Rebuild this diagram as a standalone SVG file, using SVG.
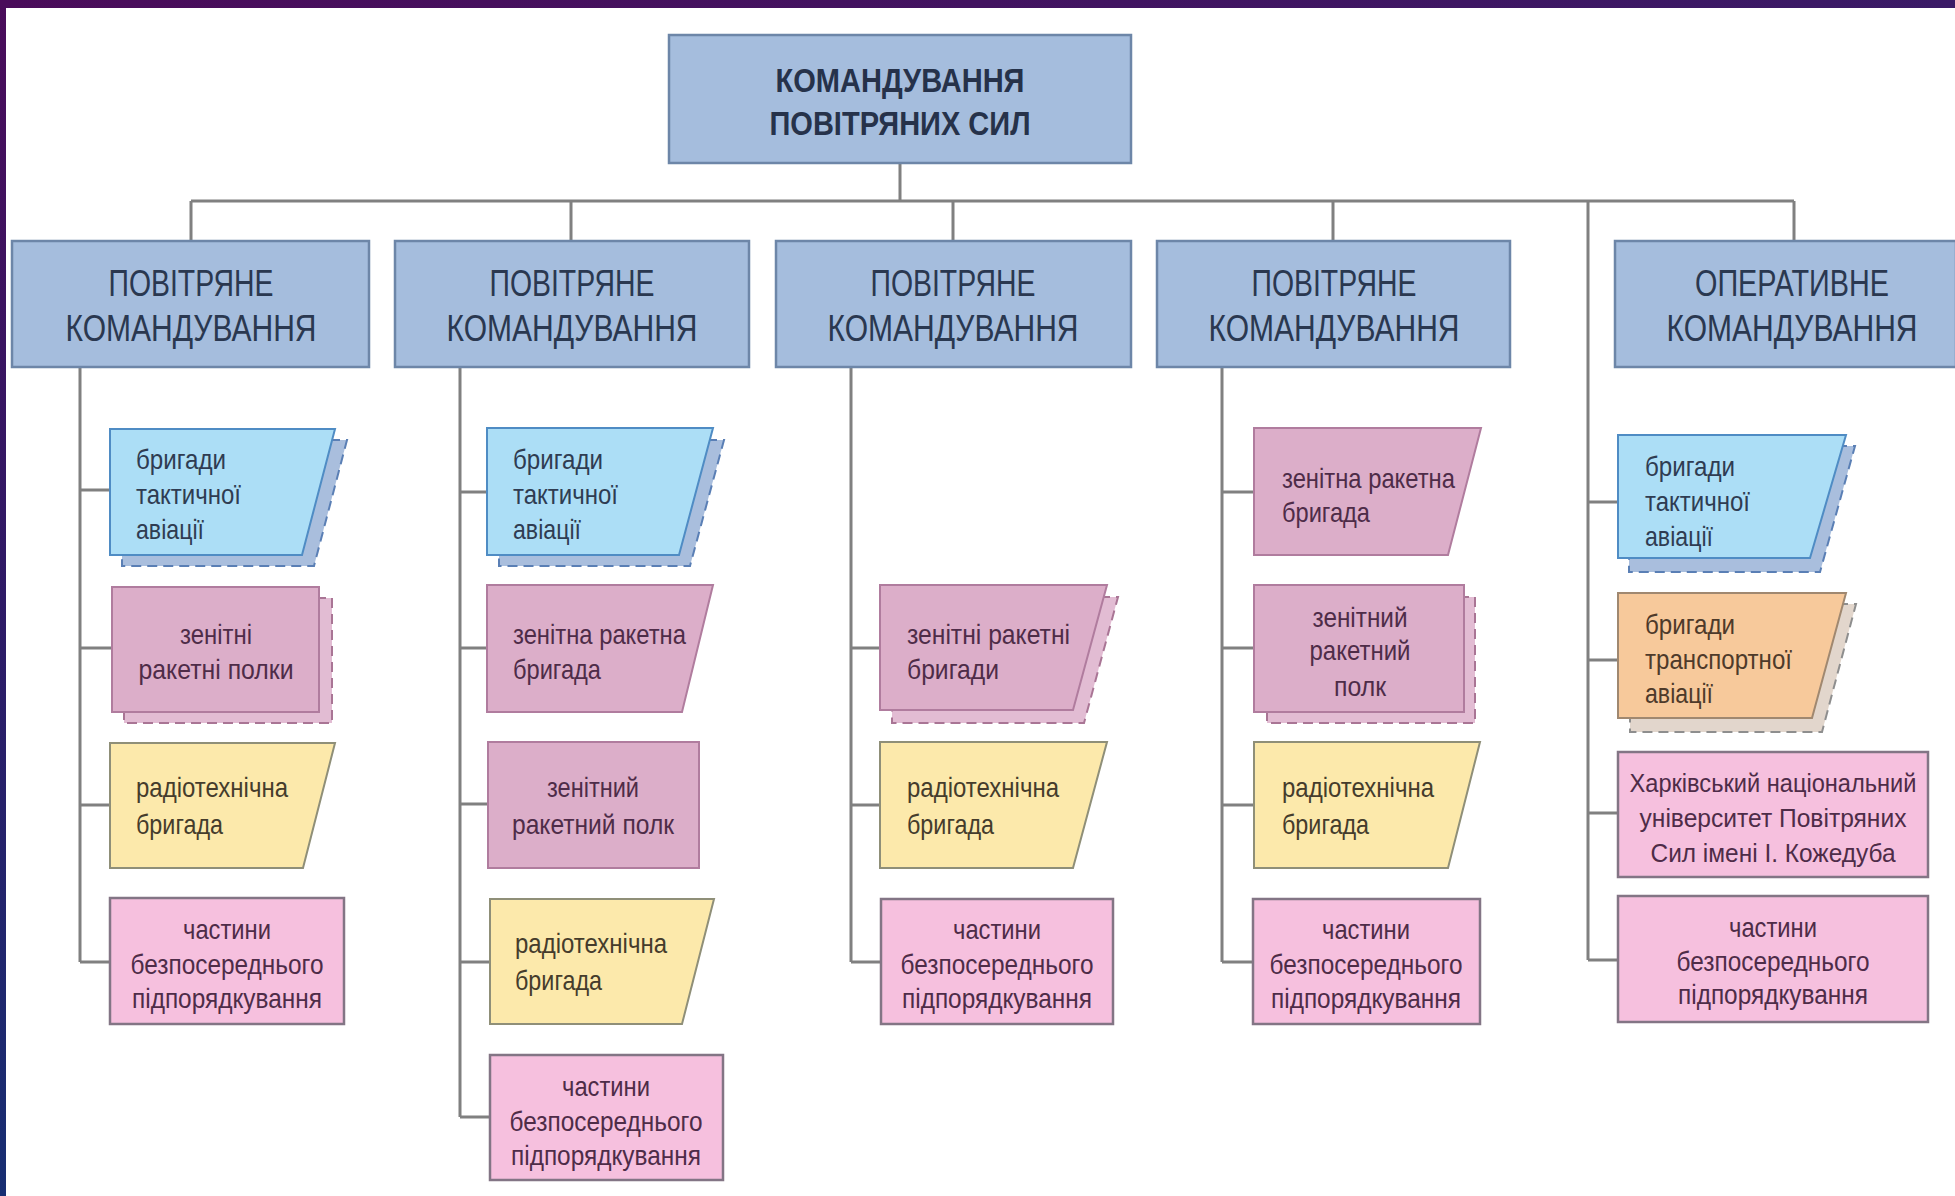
<svg xmlns="http://www.w3.org/2000/svg" width="1955" height="1196" viewBox="0 0 1955 1196">
<defs>
<linearGradient id="bg" x1="0" y1="0" x2="0" y2="1">
<stop offset="0" stop-color="#4a0c5a"/>
<stop offset="0.5" stop-color="#2e1a66"/>
<stop offset="1" stop-color="#172e72"/>
</linearGradient>
<linearGradient id="bgTop" x1="0" y1="0" x2="1" y2="0">
<stop offset="0" stop-color="#4a0c5a"/>
<stop offset="1" stop-color="#3a1a66"/>
</linearGradient>
<style>
.hdr{fill:#a5bddd;stroke:#6d86a8;stroke-width:2.5}
.hdrt{font-family:"Liberation Sans",Arial,sans-serif;font-size:37px;fill:#2a3850;text-anchor:middle}
.topt{font-family:"Liberation Sans",Arial,sans-serif;font-size:34px;font-weight:bold;fill:#26324a;text-anchor:middle}
.t{font-family:"Liberation Sans",Arial,sans-serif;font-size:28px}
.s{font-size:25px}
.l{text-anchor:start}
.c{text-anchor:middle}
.blue{fill:#acdef6;stroke:#4f8cc4;stroke-width:2}
.blueS{fill:#a9bedd;stroke:#5a7fb5;stroke-width:2;stroke-dasharray:10 6}
.mauve{fill:#dcaec9;stroke:#b07c9e;stroke-width:2}
.mauveS{fill:#e2bcd3;stroke:#a97595;stroke-width:2;stroke-dasharray:10 6}
.yel{fill:#fce9ab;stroke:#8f8f78;stroke-width:2}
.pink{fill:#f6c0de;stroke:#837585;stroke-width:2.5}
.orng{fill:#f7c99b;stroke:#a08870;stroke-width:2}
.orngS{fill:#e2d6cc;stroke:#8e8e8e;stroke-width:2;stroke-dasharray:10 6}
.tb{fill:#2f3c52}
.tm{fill:#4e2c48}
.ty{fill:#453c2c}
.to{fill:#4e3a2a}
.conn{fill:none;stroke:#808080;stroke-width:3}
</style>
</defs>
<rect x="0" y="0" width="1955" height="1196" fill="url(#bg)"/>
<rect x="0" y="0" width="1955" height="8" fill="url(#bgTop)"/>
<rect x="6" y="8" width="1949" height="1188" fill="#ffffff"/>

<g id="connectors">
<path class="conn" d="M900 163 V201 M191 201 H1794 M191 201 V241 M571 201 V241 M953 201 V241 M1333 201 V241 M1794 201 V241"/>
<path class="conn" d="M80 367 V962 M80 490 H110 M80 648 H112 M80 805 H110 M80 962 H110"/>
<path class="conn" d="M460 367 V1117 M460 492 H487 M460 648 H487 M460 804 H487 M460 962 H490 M460 1117 H490"/>
<path class="conn" d="M851 367 V962 M851 648 H880 M851 805 H880 M851 962 H881"/>
<path class="conn" d="M1222 367 V962 M1222 492 H1254 M1222 648 H1254 M1222 805 H1254 M1222 962 H1253"/>
<path class="conn" d="M1588 201 V960 M1588 502 H1618 M1588 660 H1618 M1588 813 H1618 M1588 960 H1618"/>
</g>

<g id="top">
<rect class="hdr" x="669" y="35" width="462" height="128"/>
<text class="topt" x="900" y="92" textLength="249" lengthAdjust="spacingAndGlyphs">КОМАНДУВАННЯ</text>
<text class="topt" x="900" y="135" textLength="261" lengthAdjust="spacingAndGlyphs">ПОВІТРЯНИХ СИЛ</text>
</g>

<g id="cmd1">
<rect class="hdr" x="12" y="241" width="357" height="126"/>
<text class="hdrt" x="191" y="296" textLength="165" lengthAdjust="spacingAndGlyphs">ПОВІТРЯНЕ</text>
<text class="hdrt" x="191" y="341" textLength="251" lengthAdjust="spacingAndGlyphs">КОМАНДУВАННЯ</text>
</g>
<g id="cmd2">
<rect class="hdr" x="395" y="241" width="354" height="126"/>
<text class="hdrt" x="572" y="296" textLength="165" lengthAdjust="spacingAndGlyphs">ПОВІТРЯНЕ</text>
<text class="hdrt" x="572" y="341" textLength="251" lengthAdjust="spacingAndGlyphs">КОМАНДУВАННЯ</text>
</g>
<g id="cmd3">
<rect class="hdr" x="776" y="241" width="355" height="126"/>
<text class="hdrt" x="953" y="296" textLength="165" lengthAdjust="spacingAndGlyphs">ПОВІТРЯНЕ</text>
<text class="hdrt" x="953" y="341" textLength="251" lengthAdjust="spacingAndGlyphs">КОМАНДУВАННЯ</text>
</g>
<g id="cmd4">
<rect class="hdr" x="1157" y="241" width="353" height="126"/>
<text class="hdrt" x="1334" y="296" textLength="165" lengthAdjust="spacingAndGlyphs">ПОВІТРЯНЕ</text>
<text class="hdrt" x="1334" y="341" textLength="251" lengthAdjust="spacingAndGlyphs">КОМАНДУВАННЯ</text>
</g>
<g id="cmd5">
<rect class="hdr" x="1615" y="241" width="341" height="126"/>
<text class="hdrt" x="1792" y="296" textLength="194" lengthAdjust="spacingAndGlyphs">ОПЕРАТИВНЕ</text>
<text class="hdrt" x="1792" y="341" textLength="251" lengthAdjust="spacingAndGlyphs">КОМАНДУВАННЯ</text>
</g>

<!-- Column 1 -->
<g id="c1a">
<polygon class="blueS" points="122,440 347,440 314,566 122,566"/>
<polygon class="blue" points="110,429 335,429 302,555 110,555"/>
<text class="t l tb" x="136" y="469" textLength="90" lengthAdjust="spacingAndGlyphs">бригади</text>
<text class="t l tb" x="136" y="504" textLength="105" lengthAdjust="spacingAndGlyphs">тактичної</text>
<text class="t l tb" x="136" y="539" textLength="68" lengthAdjust="spacingAndGlyphs">авіації</text>
</g>
<g id="c1b">
<rect class="mauveS" x="124" y="598" width="208" height="125"/>
<rect class="mauve" x="112" y="587" width="207" height="125"/>
<text class="t c tm" x="216" y="644" textLength="72" lengthAdjust="spacingAndGlyphs">зенітні</text>
<text class="t c tm" x="216" y="679" textLength="155" lengthAdjust="spacingAndGlyphs">ракетні полки</text>
</g>
<g id="c1c">
<polygon class="yel" points="110,743 335,743 303,868 110,868"/>
<text class="t l ty" x="136" y="797" textLength="152" lengthAdjust="spacingAndGlyphs">радіотехнічна</text>
<text class="t l ty" x="136" y="834" textLength="87" lengthAdjust="spacingAndGlyphs">бригада</text>
</g>
<g id="c1d">
<rect class="pink" x="110" y="898" width="234" height="126"/>
<text class="t c tm" x="227" y="939" textLength="88" lengthAdjust="spacingAndGlyphs">частини</text>
<text class="t c tm" x="227" y="974" textLength="193" lengthAdjust="spacingAndGlyphs">безпосереднього</text>
<text class="t c tm" x="227" y="1008" textLength="190" lengthAdjust="spacingAndGlyphs">підпорядкування</text>
</g>

<!-- Column 2 -->
<g id="c2a">
<polygon class="blueS" points="499,440 724,440 690,566 499,566"/>
<polygon class="blue" points="487,428 713,428 679,555 487,555"/>
<text class="t l tb" x="513" y="469" textLength="90" lengthAdjust="spacingAndGlyphs">бригади</text>
<text class="t l tb" x="513" y="504" textLength="105" lengthAdjust="spacingAndGlyphs">тактичної</text>
<text class="t l tb" x="513" y="539" textLength="68" lengthAdjust="spacingAndGlyphs">авіації</text>
</g>
<g id="c2b">
<polygon class="mauve" points="487,585 713,585 682,712 487,712"/>
<text class="t l tm" x="513" y="644" textLength="173" lengthAdjust="spacingAndGlyphs">зенітна ракетна</text>
<text class="t l tm" x="513" y="679" textLength="88" lengthAdjust="spacingAndGlyphs">бригада</text>
</g>
<g id="c2c">
<rect class="mauve" x="488" y="742" width="211" height="126"/>
<text class="t c tm" x="593" y="797" textLength="92" lengthAdjust="spacingAndGlyphs">зенітний</text>
<text class="t c tm" x="593" y="834" textLength="162" lengthAdjust="spacingAndGlyphs">ракетний полк</text>
</g>
<g id="c2d">
<polygon class="yel" points="490,899 714,899 682,1024 490,1024"/>
<text class="t l ty" x="515" y="953" textLength="152" lengthAdjust="spacingAndGlyphs">радіотехнічна</text>
<text class="t l ty" x="515" y="990" textLength="87" lengthAdjust="spacingAndGlyphs">бригада</text>
</g>
<g id="c2e">
<rect class="pink" x="490" y="1055" width="233" height="125"/>
<text class="t c tm" x="606" y="1096" textLength="88" lengthAdjust="spacingAndGlyphs">частини</text>
<text class="t c tm" x="606" y="1131" textLength="193" lengthAdjust="spacingAndGlyphs">безпосереднього</text>
<text class="t c tm" x="606" y="1165" textLength="190" lengthAdjust="spacingAndGlyphs">підпорядкування</text>
</g>

<!-- Column 3 -->
<g id="c3a">
<polygon class="mauveS" points="892,597 1118,597 1084,723 892,723"/>
<polygon class="mauve" points="880,585 1107,585 1073,710 880,710"/>
<text class="t l tm" x="907" y="644" textLength="163" lengthAdjust="spacingAndGlyphs">зенітні ракетні</text>
<text class="t l tm" x="907" y="679" textLength="92" lengthAdjust="spacingAndGlyphs">бригади</text>
</g>
<g id="c3b">
<polygon class="yel" points="880,742 1107,742 1073,868 880,868"/>
<text class="t l ty" x="907" y="797" textLength="152" lengthAdjust="spacingAndGlyphs">радіотехнічна</text>
<text class="t l ty" x="907" y="834" textLength="87" lengthAdjust="spacingAndGlyphs">бригада</text>
</g>
<g id="c3c">
<rect class="pink" x="881" y="899" width="232" height="125"/>
<text class="t c tm" x="997" y="939" textLength="88" lengthAdjust="spacingAndGlyphs">частини</text>
<text class="t c tm" x="997" y="974" textLength="193" lengthAdjust="spacingAndGlyphs">безпосереднього</text>
<text class="t c tm" x="997" y="1008" textLength="190" lengthAdjust="spacingAndGlyphs">підпорядкування</text>
</g>

<!-- Column 4 -->
<g id="c4a">
<polygon class="mauve" points="1254,428 1481,428 1448,555 1254,555"/>
<text class="t l tm" x="1282" y="488" textLength="173" lengthAdjust="spacingAndGlyphs">зенітна ракетна</text>
<text class="t l tm" x="1282" y="522" textLength="88" lengthAdjust="spacingAndGlyphs">бригада</text>
</g>
<g id="c4b">
<rect class="mauveS" x="1267" y="597" width="208" height="126"/>
<rect class="mauve" x="1254" y="585" width="210" height="127"/>
<text class="t c tm" x="1360" y="627" textLength="95" lengthAdjust="spacingAndGlyphs">зенітний</text>
<text class="t c tm" x="1360" y="660" textLength="101" lengthAdjust="spacingAndGlyphs">ракетний</text>
<text class="t c tm" x="1360" y="696" textLength="52" lengthAdjust="spacingAndGlyphs">полк</text>
</g>
<g id="c4c">
<polygon class="yel" points="1254,742 1480,742 1448,868 1254,868"/>
<text class="t l ty" x="1282" y="797" textLength="152" lengthAdjust="spacingAndGlyphs">радіотехнічна</text>
<text class="t l ty" x="1282" y="834" textLength="87" lengthAdjust="spacingAndGlyphs">бригада</text>
</g>
<g id="c4d">
<rect class="pink" x="1253" y="899" width="227" height="125"/>
<text class="t c tm" x="1366" y="939" textLength="88" lengthAdjust="spacingAndGlyphs">частини</text>
<text class="t c tm" x="1366" y="974" textLength="193" lengthAdjust="spacingAndGlyphs">безпосереднього</text>
<text class="t c tm" x="1366" y="1008" textLength="190" lengthAdjust="spacingAndGlyphs">підпорядкування</text>
</g>

<!-- Column 5 -->
<g id="c5a">
<polygon class="blueS" points="1629,446 1855,446 1820,572 1629,572"/>
<polygon class="blue" points="1618,435 1846,435 1810,558 1618,558"/>
<text class="t l tb" x="1645" y="476" textLength="90" lengthAdjust="spacingAndGlyphs">бригади</text>
<text class="t l tb" x="1645" y="511" textLength="105" lengthAdjust="spacingAndGlyphs">тактичної</text>
<text class="t l tb" x="1645" y="546" textLength="68" lengthAdjust="spacingAndGlyphs">авіації</text>
</g>
<g id="c5b">
<polygon class="orngS" points="1630,604 1856,604 1822,732 1630,732"/>
<polygon class="orng" points="1618,593 1846,593 1812,718 1618,718"/>
<text class="t l to" x="1645" y="634" textLength="90" lengthAdjust="spacingAndGlyphs">бригади</text>
<text class="t l to" x="1645" y="669" textLength="147" lengthAdjust="spacingAndGlyphs">транспортної</text>
<text class="t l to" x="1645" y="703" textLength="68" lengthAdjust="spacingAndGlyphs">авіації</text>
</g>
<g id="c5c">
<rect class="pink" x="1618" y="752" width="310" height="125"/>
<text class="t s c tm" x="1773" y="792" textLength="287" lengthAdjust="spacingAndGlyphs">Харківський національний</text>
<text class="t s c tm" x="1773" y="827" textLength="267" lengthAdjust="spacingAndGlyphs">університет Повітряних</text>
<text class="t s c tm" x="1773" y="862" textLength="245" lengthAdjust="spacingAndGlyphs">Сил імені І. Кожедуба</text>
</g>
<g id="c5d">
<rect class="pink" x="1618" y="896" width="310" height="126"/>
<text class="t c tm" x="1773" y="937" textLength="88" lengthAdjust="spacingAndGlyphs">частини</text>
<text class="t c tm" x="1773" y="971" textLength="193" lengthAdjust="spacingAndGlyphs">безпосереднього</text>
<text class="t c tm" x="1773" y="1004" textLength="190" lengthAdjust="spacingAndGlyphs">підпорядкування</text>
</g>
</svg>
